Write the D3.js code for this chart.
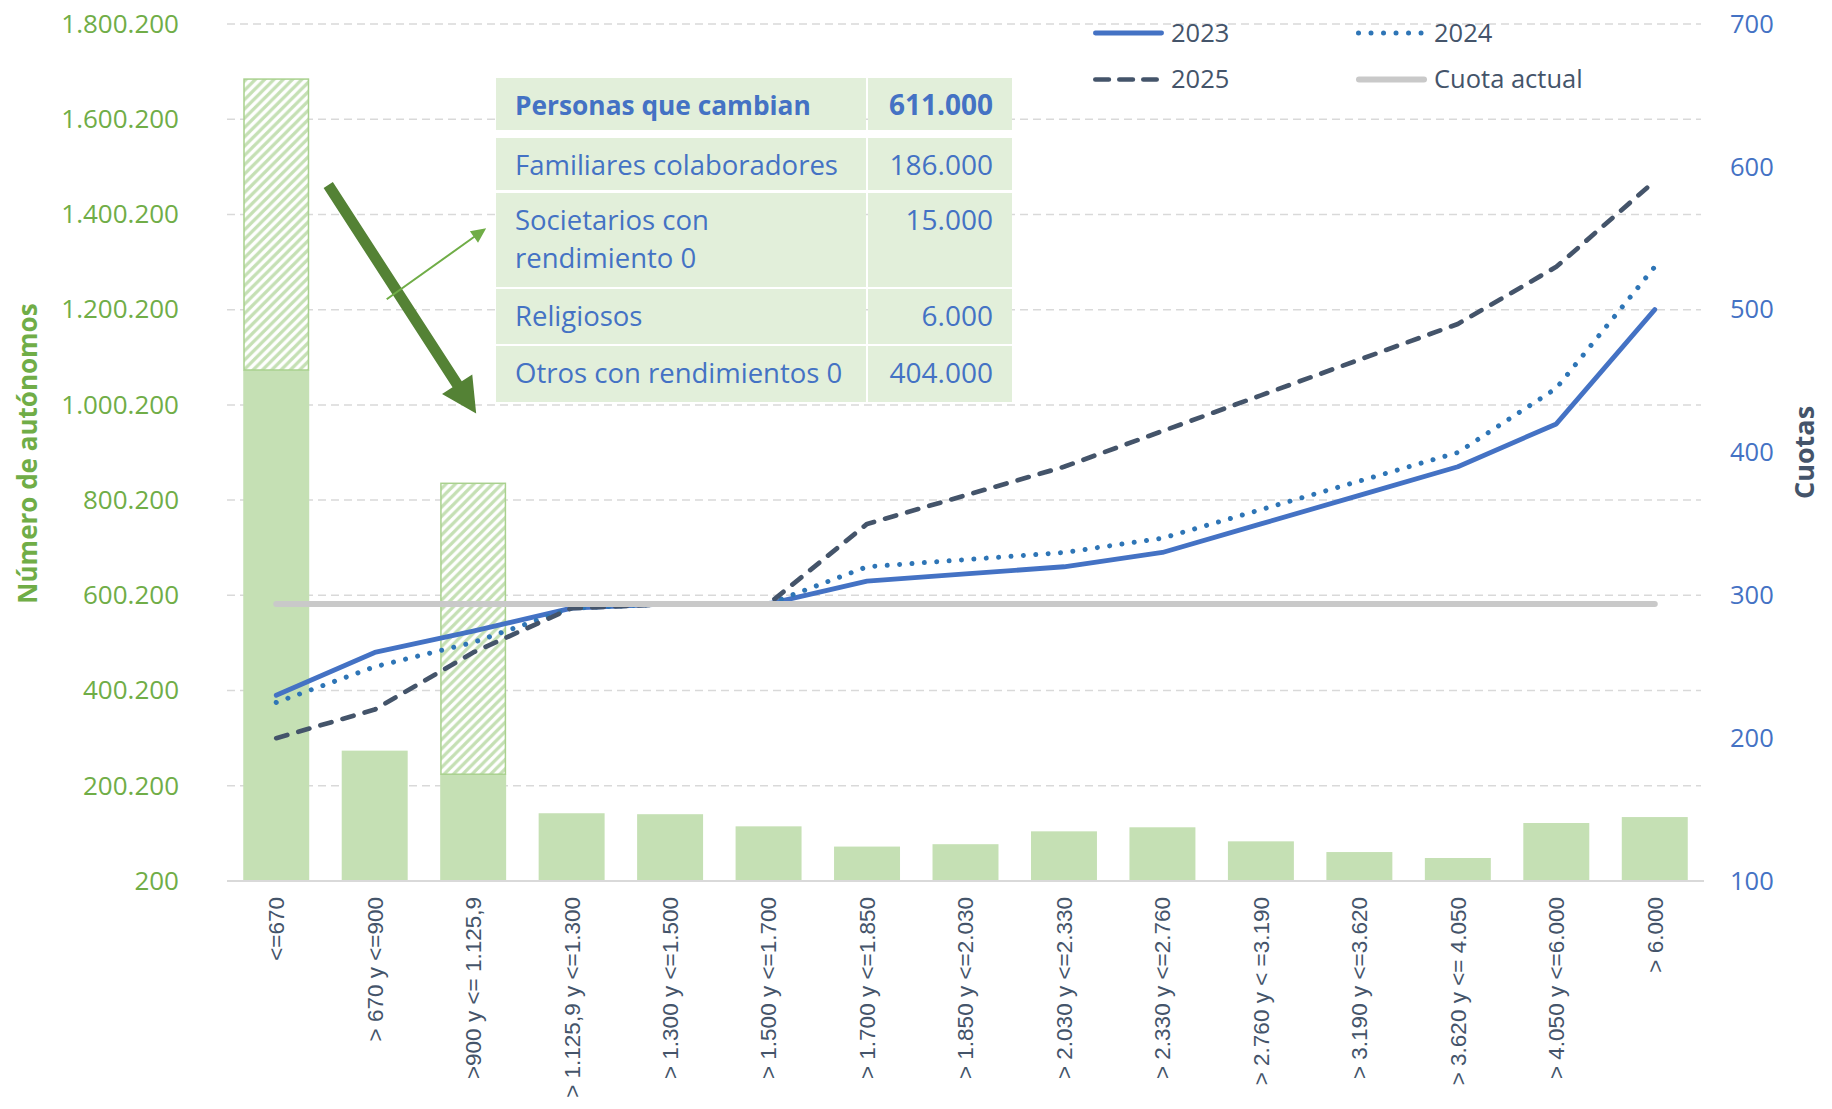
<!DOCTYPE html>
<html><head><meta charset="utf-8">
<script src="https://cdn.jsdelivr.net/npm/d3@7"></script>
<style>
html,body{margin:0;padding:0;background:#fff;}
svg{display:block;}
</style></head><body>
<svg id="chart" width="1832" height="1109"></svg>
<script>
// ---------------- DATA ----------------
const categories = ["<=670", "> 670 y <=900", ">900 y <= 1.125,9", "> 1.125,9 y <=1.300",
  "> 1.300 y <=1.500", "> 1.500 y <=1.700", "> 1.700 y <=1.850", "> 1.850 y <=2.030",
  "> 2.030 y <=2.330", "> 2.330 y <=2.760", "> 2.760 y < =3.190", "> 3.190 y <=3.620",
  "> 3.620 y <= 4.050", "> 4.050 y <=6.000", "> 6.000"];
const autonomos = [1073500, 274000, 224500, 142500, 140500, 115000, 72500, 77500,
  104500, 113000, 83500, 61000, 48500, 122000, 134500];
const personasQueCambian = [611000, 0, 611000, 0, 0, 0, 0, 0, 0, 0, 0, 0, 0, 0, 0];
const cuota2023 = [230, 260, 275, 291, 294, 294, 310, 315, 320, 330, 350, 370, 390, 420, 500];
const cuota2024 = [225, 250, 267, 291, 294, 294, 320, 325, 330, 340, 360, 380, 400, 445, 530];
const cuota2025 = [200, 220, 260, 291, 294, 294, 350, 370, 390, 415, 440, 465, 490, 530, 590];
const cuotaActual = [294, 294, 294, 294, 294, 294, 294, 294, 294, 294, 294, 294, 294, 294, 294];
const leftTicks = [200, 200200, 400200, 600200, 800200, 1000200, 1200200, 1400200, 1600200, 1800200];
const rightTicks = [100, 200, 300, 400, 500, 600, 700];
const seriesNames = ["2023", "2024", "2025", "Cuota actual"];
const tableLabels = [["Personas que cambian"], ["Familiares colaboradores"], ["Societarios con", "rendimiento 0"], ["Religiosos"], ["Otros con rendimientos 0"]];
const tableValues = ["611.000", "186.000", "15.000", "6.000", "404.000"];
const leftTitle = "Número de autónomos";
const rightTitle = "Cuotas";

// ---------------- SETUP ----------------
const svg = d3.select("#chart");
const plot = {left: 227, right: 1704, top: 24, bottom: 881};
const SANS = "'Open Sans', 'Noto Sans', sans-serif";
const fmt = d3.formatLocale({decimal: ",", thousands: ".", grouping: [3], currency: ["", ""]}).format(",d");

const x = d3.scaleBand().domain(categories).range([plot.left, plot.right]).paddingInner(0.33).paddingOuter(0.165);
const xc = c => x(c) + x.bandwidth() / 2;
const yL = d3.scaleLinear().domain([200, 1800200]).range([plot.bottom, plot.top]);
const yR = d3.scaleLinear().domain([100, 700]).range([plot.bottom, plot.top]);

// hatch pattern
const defs = svg.append("defs");
const P = 9.3;
const pat = defs.append("pattern").attr("id", "hatch").attr("patternUnits", "userSpaceOnUse")
  .attr("width", P).attr("height", P);
pat.append("rect").attr("width", P).attr("height", P).attr("fill", "#fff");
pat.append("path").attr("d", `M-2,2 L2,-2 M0,${P} L${P},0 M${P-2},${P+2} L${P+2},${P-2}`)
  .attr("stroke", "#C5E0B4").attr("stroke-width", 3.2);

// gridlines
svg.append("g").selectAll("line").data(leftTicks.slice(1)).join("line")
  .attr("x1", plot.left).attr("x2", plot.right - 3)
  .attr("y1", d => yL(d)).attr("y2", d => yL(d))
  .attr("stroke", "#D9D9D9").attr("stroke-width", 1.5).attr("stroke-dasharray", "8,5");

// bars
svg.append("g").selectAll("rect").data(categories).join("rect")
  .attr("x", d => x(d)).attr("width", x.bandwidth())
  .attr("y", (d, i) => yL(autonomos[i])).attr("height", (d, i) => yL(200) - yL(autonomos[i]))
  .attr("fill", "#C5E0B4");
const hatchIdx = categories.map((c, i) => i).filter(i => personasQueCambian[i] > 0);
svg.append("g").selectAll("rect").data(hatchIdx).join("rect")
  .attr("x", i => x(categories[i]) + 0.75).attr("width", x.bandwidth() - 1.5)
  .attr("y", i => yL(autonomos[i] + personasQueCambian[i]))
  .attr("height", i => yL(autonomos[i]) - yL(autonomos[i] + personasQueCambian[i]))
  .attr("fill", "url(#hatch)").attr("stroke", "#A9D18E").attr("stroke-width", 1.5);

// baseline
svg.append("line").attr("x1", plot.left).attr("x2", plot.right)
  .attr("y1", yL(200)).attr("y2", yL(200)).attr("stroke", "#D9D9D9").attr("stroke-width", 2);

// table (annotation)
const tbl = svg.append("g");
const rowGeom = [[78, 52], [138, 52], [193, 94], [289, 55], [346, 56]];
const tx0 = 496, tsplit = 866, tx1 = 1012;
tableLabels.forEach((lab, i) => {
  const [ty, th] = rowGeom[i];
  tbl.append("rect").attr("x", tx0).attr("y", ty).attr("width", tsplit - tx0).attr("height", th).attr("fill", "#E2EFDA");
  tbl.append("rect").attr("x", tsplit + 2).attr("y", ty).attr("width", tx1 - tsplit - 2).attr("height", th).attr("fill", "#E2EFDA");
  const bold = i === 0;
  lab.forEach((line, k) => {
    tbl.append("text").attr("x", tx0 + 19).attr("y", ty + 37 + k * 37.5).text(line)
      .attr("font-family", SANS).attr("font-size", bold ? 26.3 : 27.5)
      .attr("font-weight", bold ? 700 : 400).attr("fill", "#4472C4");
  });
  tbl.append("text").attr("x", tx1 - 19).attr("y", ty + 37).attr("text-anchor", "end").text(tableValues[i])
    .attr("font-family", SANS).attr("font-size", 28)
    .attr("font-weight", bold ? 700 : 400).attr("fill", "#4472C4");
});

// lines
const line = d3.line().x((d, i) => xc(categories[i])).y(d => yR(d));
const series = [
  {v: cuota2023, c: "#4472C4", w: 4.8, dash: null, legDash: null},
  {v: cuota2024, c: "#2E75B6", w: 5, dash: "0.01,12.4", legDash: "0.01,12.5"},
  {v: cuota2025, c: "#44546A", w: 4.7, dash: "11.5,11.5", legDash: "13.5,10.5"},
  {v: cuotaActual, c: "#C9C9C9", w: 6, dash: null, legDash: null}
];
svg.append("g").selectAll("path").data(series).join("path")
  .attr("d", d => line(d.v)).attr("fill", "none")
  .attr("stroke", d => d.c).attr("stroke-width", d => d.w)
  .attr("stroke-dasharray", d => d.dash)
  .attr("stroke-linecap", "round").attr("stroke-linejoin", "round");

// arrows (annotations)
function arrow(g, from, to, shaftW, headLen, headHalf, color) {
  const dx = to[0] - from[0], dy = to[1] - from[1], L = Math.hypot(dx, dy);
  const ux = dx / L, uy = dy / L, nx = -uy, ny = ux;
  const bx = to[0] - ux * headLen, by = to[1] - uy * headLen;
  const h = shaftW / 2;
  g.append("path").attr("fill", color).attr("d",
    `M${from[0] + nx * h},${from[1] + ny * h} L${bx + nx * h},${by + ny * h} L${bx + nx * headHalf},${by + ny * headHalf} ` +
    `L${to[0]},${to[1]} L${bx - nx * headHalf},${by - ny * headHalf} L${bx - nx * h},${by - ny * h} L${from[0] - nx * h},${from[1] - ny * h} Z`);
}
const ag = svg.append("g");
arrow(ag, [xc(categories[0]) + 52, yL(1462000)], [xc(categories[2]) + 3, yL(982000)], 11, 35, 18, "#548235");
arrow(ag, [xc(categories[1]) + 12, yL(1222000)], [xc(categories[2]) + 13, yL(1371000)], 2, 15, 7, "#70AD47");

// axes
const axL = svg.append("g").attr("transform", `translate(${plot.left},0)`)
  .call(d3.axisLeft(yL).tickValues(leftTicks).tickFormat(fmt).tickSize(0).tickPadding(48));
axL.select(".domain").remove();
axL.selectAll("text").attr("font-family", SANS).attr("font-size", 26).attr("fill", "#70AD47");

const axR = svg.append("g").attr("transform", `translate(${plot.right},0)`)
  .call(d3.axisRight(yR).tickValues(rightTicks).tickFormat(d3.format("d")).tickSize(0).tickPadding(26));
axR.select(".domain").remove();
axR.selectAll("text").attr("font-family", SANS).attr("font-size", 25.5).attr("fill", "#4472C4");

const axB = svg.append("g").attr("transform", `translate(0,${plot.bottom})`)
  .call(d3.axisBottom(x).tickSize(0));
axB.select(".domain").remove();
axB.selectAll("text").attr("transform", "rotate(-90)").attr("text-anchor", "end")
  .attr("x", -16).attr("y", 0).attr("dy", "0.35em")
  .attr("font-family", "'Liberation Sans', Arial, sans-serif").attr("font-size", 22.5).attr("fill", "#44546A");

// axis titles
svg.append("text").attr("transform", `translate(28,${(plot.top + plot.bottom) / 2 + 1}) rotate(-90)`)
  .attr("text-anchor", "middle").attr("dy", "0.35em").text(leftTitle)
  .attr("font-family", SANS).attr("font-weight", 700).attr("font-size", 26).attr("fill", "#70AD47");
svg.append("text").attr("transform", `translate(1805,${(plot.top + plot.bottom) / 2}) rotate(-90)`)
  .attr("text-anchor", "middle").attr("dy", "0.35em").text(rightTitle)
  .attr("font-family", SANS).attr("font-weight", 700).attr("font-size", 27).attr("fill", "#44546A");

// legend
const legPos = [[1093, 33], [1356, 33], [1093, 79.5], [1356, 79.5]];
const lg = svg.append("g");
series.forEach((s, i) => {
  const [lx, ly] = legPos[i];
  const r = s.w / 2;
  lg.append("line").attr("x1", lx + r).attr("x2", lx + (i === 1 ? 66 : i === 2 ? 66 - r : 71 - r))
    .attr("y1", ly).attr("y2", ly)
    .attr("stroke", s.c).attr("stroke-width", s.w).attr("stroke-linecap", "round")
    .attr("stroke-dasharray", s.legDash);
  lg.append("text").attr("x", lx + 78).attr("y", ly).attr("dy", "0.35em").text(seriesNames[i])
    .attr("font-family", SANS).attr("font-size", 25.5).attr("fill", "#44546A");
});
</script>
</body></html>
